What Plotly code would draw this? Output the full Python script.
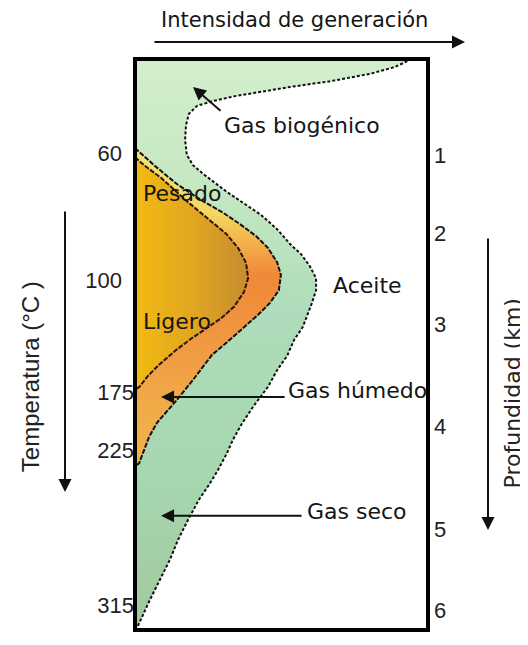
import plotly.graph_objects as go

# Diagram units: x = generation intensity (% of box width), y = depth position (% of box height, 0 = top)
outer_x = [94.5, 88.7, 80.2, 66.6, 52.9, 42.7, 34.1, 26.3, 21.2, 18.4, 17.4, 17.1, 17.7, 19.8, 23.2,
           31.4, 43.0, 48.5, 52.9, 56.7, 59.7, 61.8, 61.8, 60.4, 57.3, 54.3, 51.9, 48.5, 45.4, 40.3,
           36.2, 33.4, 31.4, 28.3, 25.6, 21.8, 18.1, 14.7, 11.9, 8.5, 5.1, 0.8]
outer_y = [0.0, 1.4, 2.6, 3.9, 4.9, 5.8, 6.5, 7.4, 8.2, 9.6, 11.6, 14.2, 16.8, 18.6, 20.1,
           23.3, 27.3, 29.8, 32.4, 34.2, 36.3, 38.4, 40.5, 42.7, 46.9, 49.2, 52.0, 54.5, 57.4, 60.9,
           64.1, 66.7, 69.0, 72.0, 74.3, 77.2, 80.7, 84.2, 87.7, 91.2, 94.7, 99.5]

oil_x = [0.0, 6.5, 14.3, 22.5, 29.7, 35.8, 41.3, 45.4, 48.5, 49.8, 49.1, 46.1, 42.0, 36.2, 31.4,
         26.3, 19.8, 14.3, 10.2, 7.5, 4.8, 3.1, 1.4, 0.0]
oil_y = [15.6, 18.6, 21.9, 24.7, 26.8, 28.9, 31.0, 33.1, 35.6, 37.8, 40.5, 42.7, 44.8, 47.5, 49.6,
         51.8, 56.2, 59.7, 62.0, 63.7, 66.2, 68.5, 70.8, 71.3]

heavy_x = [0.0, 3.1, 8.9, 17.7, 25.9, 31.1, 35.2, 37.9, 38.6, 37.2, 33.8, 29.4, 24.6, 19.1, 13.7,
           8.5, 4.4, 1.7, 0.0]
heavy_y = [17.2, 18.6, 20.8, 24.9, 28.4, 30.6, 33.1, 35.7, 38.4, 40.8, 43.4, 45.4, 47.1, 49.0, 51.1,
           53.4, 55.5, 57.3, 58.0]

temp_labels_far = ["60", "100"]
temp_pos_far = [16.6, 38.7]
temp_labels_near = ["175", "225", "315"]
temp_pos_near = [58.3, 68.5, 95.6]
depth_labels = ["1", "2", "3", "4", "5", "6"]
depth_pos = [16.8, 30.6, 46.4, 64.4, 82.3, 96.5]

fig = go.Figure()

# Gas zone (green)
fig.add_trace(go.Scatter(
    x=[0] + outer_x + [0], y=[0] + outer_y + [100], mode="lines", fill="toself",
    line=dict(width=0, color="rgba(0,0,0,0)"),
    fillgradient=dict(type="vertical", start=0, stop=100,
                      colorscale=[[0, "#d4eecd"], [0.22, "#c6e8c2"], [0.45, "#aedcba"],
                                  [0.75, "#a6d6b0"], [1, "#a2c89c"]]),
    hoverinfo="skip", showlegend=False))

# Oil window (yellow -> orange)
fig.add_trace(go.Scatter(
    x=oil_x, y=oil_y, mode="lines", fill="toself",
    line=dict(width=0, color="rgba(0,0,0,0)"),
    fillgradient=dict(type="vertical", start=15, stop=72,
                      colorscale=[[0, "#f2e47c"], [0.21, "#f4d860"], [0.3, "#f2b24c"],
                                  [0.4, "#f08838"], [0.56, "#f09440"], [0.79, "#f0aa48"], [1, "#f0b44c"]]),
    hoverinfo="skip", showlegend=False))

# Heavy/light oil core (golden)
fig.add_trace(go.Scatter(
    x=heavy_x, y=heavy_y, mode="lines", fill="toself",
    line=dict(width=0, color="rgba(0,0,0,0)"),
    fillgradient=dict(type="horizontal", start=0, stop=39,
                      colorscale=[[0, "#f2ba12"], [0.5, "#e2a620"], [1, "#c48c30"]]),
    hoverinfo="skip", showlegend=False))

# Boundary lines
fig.add_trace(go.Scatter(x=outer_x, y=outer_y, mode="lines", yaxis="y2",
                         line=dict(color="#111111", width=2, dash="3px,2px"),
                         hoverinfo="skip", showlegend=False))
fig.add_trace(go.Scatter(x=oil_x, y=oil_y, mode="lines", yaxis="y3",
                         line=dict(color="#151010", width=2, dash="5px,1.5px"),
                         hoverinfo="skip", showlegend=False))
fig.add_trace(go.Scatter(x=heavy_x, y=heavy_y, mode="lines",
                         line=dict(color="#2a140a", width=2, dash="5px,1.5px"),
                         hoverinfo="skip", showlegend=False))

tick_font = dict(family="Liberation Sans, Arial, sans-serif", size=22, color="#222222")
lab_font = dict(family="DejaVu Sans, Verdana, sans-serif", size=22, color="#151515")

fig.update_layout(
    width=520, height=637,
    margin=dict(l=127, r=100, t=51, b=15),
    paper_bgcolor="white", plot_bgcolor="white",
    showlegend=False,
    xaxis=dict(range=[0, 100], showgrid=False, zeroline=False, showticklabels=False, ticks=""),
    yaxis=dict(range=[100, 0], showgrid=False, zeroline=False, ticks="",
               tickmode="array", tickvals=temp_pos_near, ticktext=temp_labels_near,
               tickfont=tick_font, ticklabelstandoff=0),
    yaxis3=dict(range=[100, 0], overlaying="y", side="left", showgrid=False, zeroline=False,
                ticks="", tickmode="array", tickvals=temp_pos_far, ticktext=temp_labels_far,
                tickfont=tick_font, ticklabelstandoff=12, showline=False),
    yaxis2=dict(range=[100, 0], overlaying="y", side="right", showgrid=False, zeroline=False,
                ticks="", tickmode="array", tickvals=depth_pos, ticktext=depth_labels,
                tickfont=tick_font, ticklabelstandoff=5, showline=False),
)

fig.add_shape(type="rect", xref="paper", yref="paper", x0=0, x1=1, y0=0, y1=1,
              line=dict(color="black", width=4), layer="above")

# Labels inside the diagram
labels = [
    ("Gas biogénico", 29.7, 11.7),
    ("Aceite", 66.9, 39.6),
    ("Gas húmedo", 51.5, 58.1),
    ("Gas seco", 58.0, 79.3),
    ("Pesado", 2.0, 23.5),
    ("Ligero", 2.0, 46.0),
]
for txt, lx, ly in labels:
    fig.add_annotation(x=lx, y=ly, xref="x", yref="y", text=txt, showarrow=False,
                       xanchor="left", yanchor="middle", font=lab_font)

# Pointer arrows inside
arrows = [
    (19.8, 4.9, 29, 25),
    (8.9, 59.2, 125, 0),
    (8.9, 80.0, 142, 0),
]
for axx, ayy, dx, dy in arrows:
    fig.add_annotation(x=axx, y=ayy, xref="x", yref="y", ax=dx, ay=dy, text="",
                       showarrow=True, arrowhead=2, arrowsize=1.3, arrowwidth=2,
                       arrowcolor="#111111")

# Outer axis titles and arrows
fig.add_annotation(x=0.5427, y=1.0683, xref="paper", yref="paper", text="Intensidad de generación",
                   showarrow=False, xanchor="center", yanchor="middle",
                   font=dict(family="DejaVu Sans, Verdana, sans-serif", size=21, color="#151515"))
fig.add_annotation(x=1.1263, y=1.0298, xref="paper", yref="paper", ax=-312, ay=0, text="",
                   showarrow=True, arrowhead=2, arrowsize=1.3, arrowwidth=2, arrowcolor="#111111")
fig.add_annotation(x=-0.358, y=0.443, xref="paper", yref="paper", text="Temperatura (°C )",
                   textangle=-90, showarrow=False, xanchor="center", yanchor="middle",
                   font=dict(family="Liberation Sans, Arial, sans-serif", size=24, color="#222222"))
fig.add_annotation(x=-0.2389, y=0.2417, xref="paper", yref="paper", ax=0, ay=-282, text="",
                   showarrow=True, arrowhead=2, arrowsize=1.3, arrowwidth=2, arrowcolor="#111111")
fig.add_annotation(x=1.288, y=0.415, xref="paper", yref="paper", text="Profundidad (km)",
                   textangle=-90, showarrow=False, xanchor="center", yanchor="middle",
                   font=dict(family="DejaVu Sans, Verdana, sans-serif", size=22, color="#222222"))
fig.add_annotation(x=1.2048, y=0.1751, xref="paper", yref="paper", ax=0, ay=-293, text="",
                   showarrow=True, arrowhead=2, arrowsize=1.3, arrowwidth=2, arrowcolor="#111111")

fig.write_html("out.html")
